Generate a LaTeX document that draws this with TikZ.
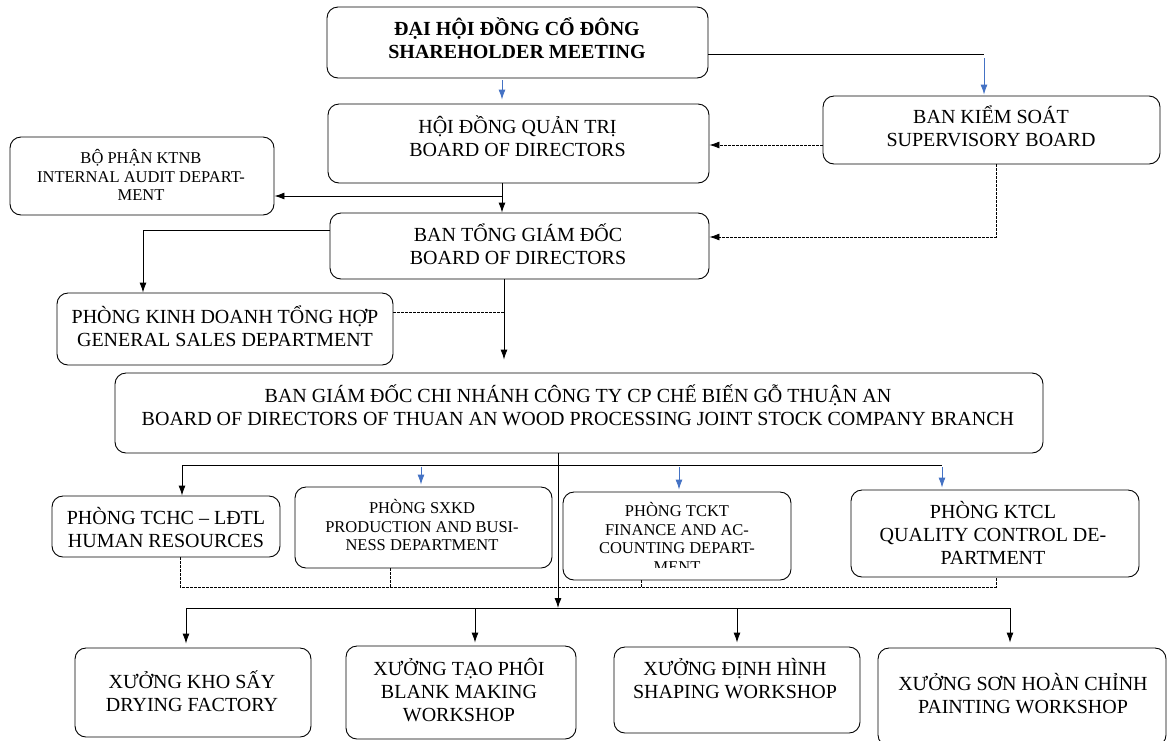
\documentclass[tikz,border=0pt]{standalone}
\usepackage{fontspec}
\setmainfont{Liberation Serif}
\usetikzlibrary{positioning, shapes, arrows.meta, calc}
\definecolor{lineblue}{HTML}{4472C4}
\tikzset{
    box/.style={draw, rounded corners=11pt, line width=0.9pt, inner sep=0pt},
    txt/.style={align=center, inner sep=0pt, font=\fontsize{20}{23}\selectfont},
    small/.style={align=center, inner sep=0pt, font=\fontsize{16.5}{18.5}\selectfont},
    link/.style={line width=0.9pt},
    arr/.style={-{Latex[length=10pt,width=7pt]}, line width=0.9pt},
    bluearr/.style={arr, draw=lineblue, fill=lineblue},
    dashlink/.style={line width=0.8pt, dash pattern=on 2.5pt off 1.5pt}
}

\begin{document}
\begin{tikzpicture}[x=1pt, y=-1pt]
\useasboundingbox (0,0) rectangle (1167,740);

% boxes
\node[box, minimum width=381pt, minimum height=71pt] (sh) at (517.5,42.5) {};
\node[box, minimum width=381pt, minimum height=79pt] (hdqt) at (518.5,143.5) {};
\node[box, minimum width=337pt, minimum height=68pt] (ks) at (991.5,130) {};
\node[box, minimum width=264pt, minimum height=78pt] (ktnb) at (142,176) {};
\node[box, minimum width=379pt, minimum height=66pt] (tgd) at (519.5,246) {};
\node[box, minimum width=336pt, minimum height=72pt] (kd) at (225,329) {};
\node[box, minimum width=928pt, minimum height=80pt] (cn) at (579,413) {};

\node[box, minimum width=228pt, minimum height=61pt] (hr) at (166,526.5) {};
\node[box, minimum width=257pt, minimum height=81pt] (sx) at (423.5,527.5) {};
\node[box, minimum width=228pt, minimum height=88pt] (tc) at (677,536) {};
\node[box, minimum width=288pt, minimum height=87pt] (qc) at (995,533.5) {};

\node[box, minimum width=236pt, minimum height=89pt] (say) at (193,692.5) {};
\node[box, minimum width=230pt, minimum height=93pt] (phoi) at (461,692.5) {};
\node[box, minimum width=246pt, minimum height=86pt] (dh) at (737,690) {};
\node[box, minimum width=288pt, minimum height=98pt] (son) at (1022,697) {};

% texts
\node[txt, font=\fontsize{20}{23}\selectfont\bfseries] (shT) at (517,38.5)
    {ĐẠI HỘI ĐỒNG CỔ ĐÔNG\\SHAREHOLDER MEETING};
\node[txt] (hdqtT) at (517.5,136.5) {HỘI ĐỒNG QUẢN TRỊ\\BOARD OF DIRECTORS};
\node[txt] (ksT) at (991,126.5) {BAN KIỂM SOÁT\\SUPERVISORY BOARD};
\node[small] (ktnbT) at (141,175) {BỘ PHẬN KTNB\\INTERNAL AUDIT DEPART-\\MENT};
\node[txt] (tgdT) at (518,244) {BAN TỔNG GIÁM ĐỐC\\BOARD OF DIRECTORS};
\node[txt] (kdT) at (225,326) {PHÒNG KINH DOANH TỔNG HỢP\\GENERAL SALES DEPARTMENT};
\node[txt] (cnT) at (578,405)
    {BAN GIÁM ĐỐC CHI NHÁNH CÔNG TY CP CHẾ BIẾN GỖ THUẬN AN\\
     BOARD OF DIRECTORS OF THUAN AN WOOD PROCESSING JOINT STOCK COMPANY BRANCH};

\node[txt] (hrT) at (166,528) {PHÒNG TCHC – LĐTL\\HUMAN RESOURCES};
\node[small] (sxT) at (422,525) {PHÒNG SXKD\\PRODUCTION AND BUSI-\\NESS DEPARTMENT};
\begin{scope}
\clip (563,492) rectangle (791,567);
\node[small] (tcT) at (677,537.5) {PHÒNG TCKT\\FINANCE AND AC-\\COUNTING DEPART-\\MENT};
\end{scope}
\node[txt] (qcT) at (993,533) {PHÒNG KTCL\\QUALITY CONTROL DE-\\PARTMENT};

\node[txt] (sayT) at (192,691) {XƯỞNG KHO SẤY\\DRYING FACTORY};
\node[txt] (phoiT) at (459,690) {XƯỞNG TẠO PHÔI\\BLANK MAKING\\WORKSHOP};
\node[txt] (dhT) at (735,679) {XƯỞNG ĐỊNH HÌNH\\SHAPING WORKSHOP};
\node[txt] (sonT) at (1023,693.5) {XƯỞNG SƠN HOÀN CHỈNH\\PAINTING WORKSHOP};

% joints
\coordinate (shk) at (984,54);
\coordinate (audit) at (502,196);
\coordinate (kscorner) at (996,237);
\coordinate (kdjoin) at (504,312);
\coordinate (busL) at (182,465);
\coordinate (busR) at (942,465);
\coordinate (dashL) at (180,587);
\coordinate (dashR) at (996,587);
\coordinate (lowL) at (186,608);
\coordinate (lowR) at (1010,608);

% top level
\draw [bluearr, shorten <=2pt, shorten >=4pt]
    (sh.south -| 502,0) -- (hdqt.north -| 502,0);
\draw [link]
    (sh.east |- shk) -- (shk);
\draw [bluearr, shorten <=4pt, shorten >=1pt]
    (shk) -- (ks.north -| shk);
\draw [arr, dashlink]
    (ks.west |- 0,145) -- (hdqt.east |- 0,145);
\draw [arr, dashlink]
    (ks.south -| kscorner) -- (kscorner) -- (tgd.east |- kscorner);

\draw [arr]
    (hdqt.south -| 502,0) -- (tgd.north -| 502,0);
\draw [arr]
    (audit) -- (ktnb.east |- audit);
\draw [arr]
    (tgd.west |- 0,230) -| (kd.north -| 143,0);
\draw [arr, shorten >=13pt]
    (tgd.south -| 504,0) -- (cn.north -| 504,0);
\draw [dashlink]
    (kd.east |- kdjoin) -- (kdjoin);

% departments
\draw [link] (busL) -- (busR);
\draw [arr] (busL) -- (hr.north -| busL);
\draw [bluearr, shorten <=2pt, shorten >=2pt] (421,465) -- (sx.north -| 421,0);
\draw [bluearr, shorten <=2pt, shorten >=2pt] (679,465) -- (tc.north -| 679,0);
\draw [bluearr, shorten <=2pt, shorten >=2pt] (busR) -- (qc.north -| busR);

\draw [dashlink]
    (hr.south -| dashL) -- (dashL) -- (dashR) -- (qc.south -| dashR);
\draw [dashlink] (sx.south -| 390,0) -- (390,587);
\draw [dashlink] (tc.south -| 641,0) -- (641,587);

% workshops
\draw [arr] (cn.south -| 558,0) -- (558,608);
\draw [link] (lowL) -- (lowR);
\draw [arr, shorten >=4pt] (lowL) -- (say.north -| lowL);
\draw [arr, shorten >=3pt] (475,608) -- (phoi.north -| 475,0);
\draw [arr, shorten >=4pt] (737,608) -- (dh.north -| 737,0);
\draw [arr, shorten >=5pt] (lowR) -- (son.north -| lowR);

\end{tikzpicture}
\end{document}
